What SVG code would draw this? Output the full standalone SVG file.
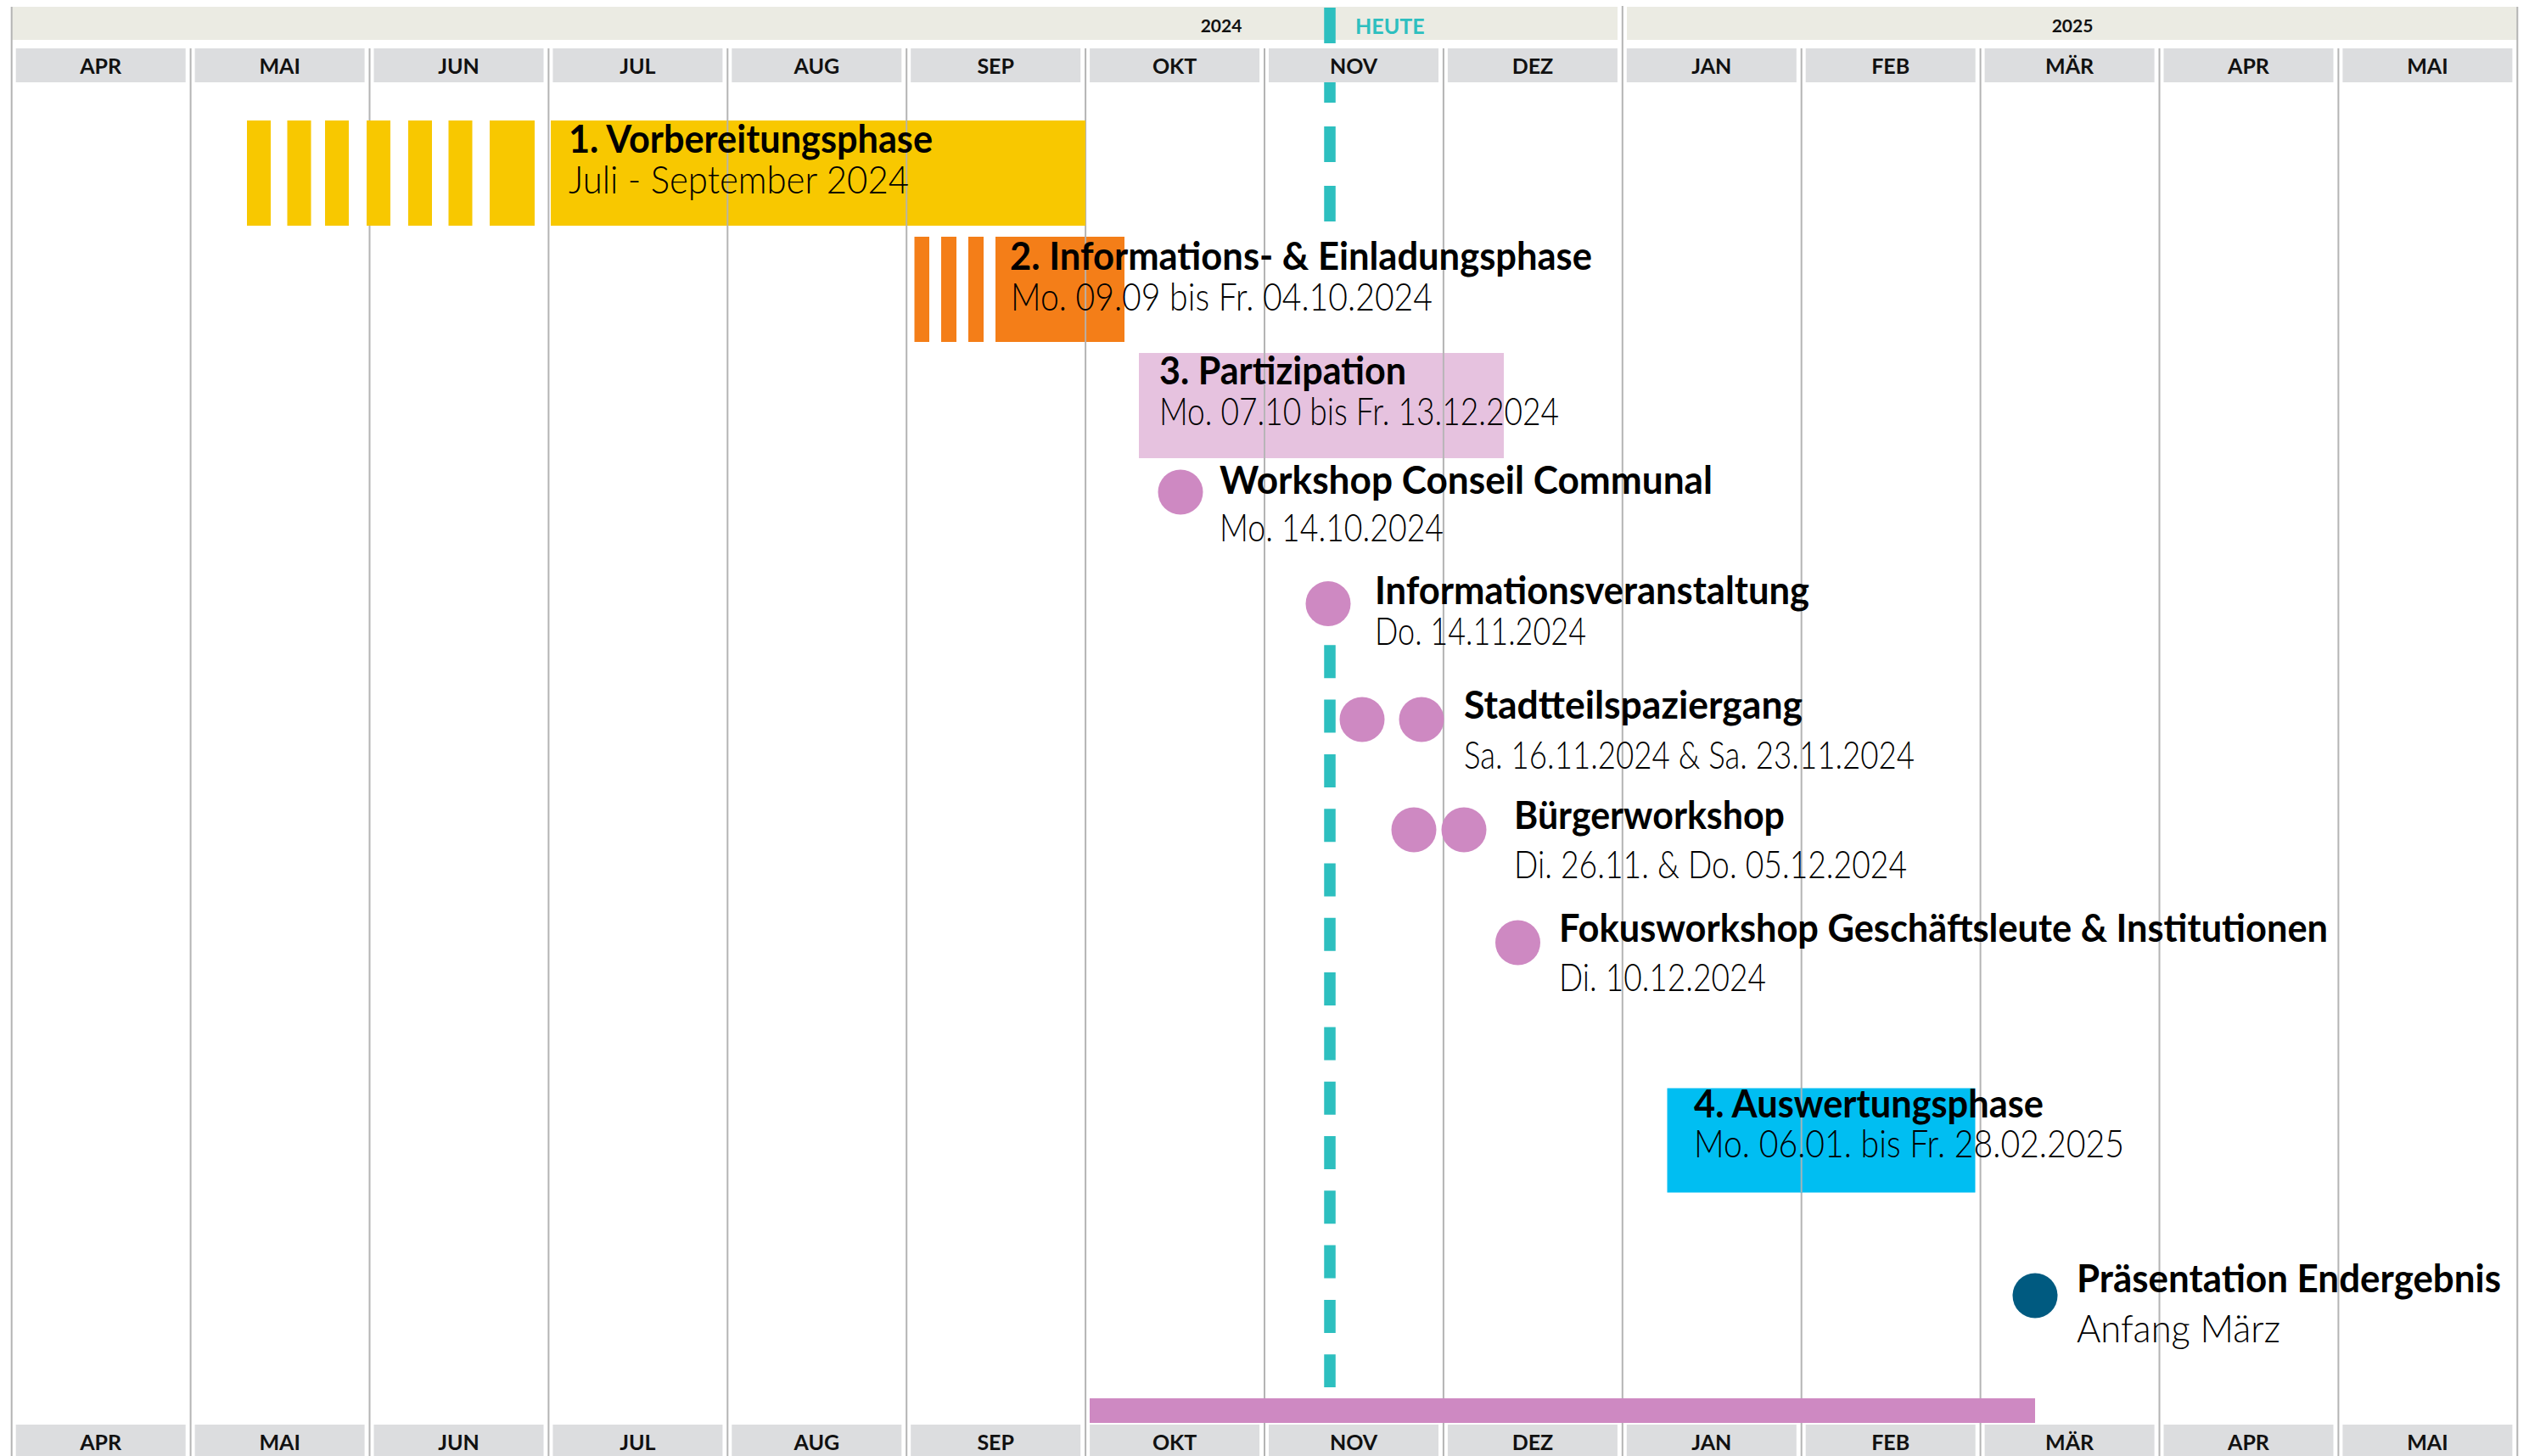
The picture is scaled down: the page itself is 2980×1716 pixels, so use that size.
<svg xmlns="http://www.w3.org/2000/svg" width="2980" height="1716" viewBox="0 0 2980 1716">
<style>
.yb{fill:#EBEBE3}
.cell{fill:#DCDDDF}
.grid{stroke:#B4B4B4;stroke-width:2}
.mon{font-family:Lato,"Liberation Sans",sans-serif;font-weight:700;font-size:25px;fill:#111;text-anchor:middle}
.yr{font-family:Lato,"Liberation Sans",sans-serif;font-weight:700;font-size:21px;fill:#111;text-anchor:middle}
.heute{font-family:Lato,"Liberation Sans",sans-serif;font-weight:700;font-size:25px;fill:#2DBFBF}
.t{font-family:Lato,"Liberation Sans",sans-serif;font-weight:700;font-size:46px;fill:#000}
.d{font-family:Lato,"Liberation Sans",sans-serif;font-weight:300;font-size:46px;fill:#000}
.today{stroke:#2DBFBF;stroke-width:13.5;fill:none}
.ev{fill:#CE89C2}
</style>
<rect width="2980" height="1716" fill="#FFFFFF"/>
<g id="year-bar">
<rect class="yb" x="13.7" y="8" width="1892.3" height="39"/>
<rect class="yb" x="1917" y="8" width="1049.3" height="39"/>
<text class="yr" x="1439" y="38">2024</text>
<text class="yr" x="2442" y="38">2025</text>
</g>
<g id="gridlines">
<line class="grid" x1="13.7" y1="8" x2="13.7" y2="1716"/>
<line class="grid" x1="224.6" y1="57" x2="224.6" y2="1716"/>
<line class="grid" x1="435.5" y1="57" x2="435.5" y2="1716"/>
<line class="grid" x1="646.4" y1="57" x2="646.4" y2="1716"/>
<line class="grid" x1="857.3" y1="57" x2="857.3" y2="1716"/>
<line class="grid" x1="1068.2" y1="57" x2="1068.2" y2="1716"/>
<line class="grid" x1="1279.1" y1="57" x2="1279.1" y2="1716"/>
<line class="grid" x1="1490" y1="57" x2="1490" y2="1716"/>
<line class="grid" x1="1700.9" y1="57" x2="1700.9" y2="1716"/>
<line class="grid" x1="1911.8" y1="7" x2="1911.8" y2="1716"/>
<line class="grid" x1="2122.7" y1="57" x2="2122.7" y2="1716"/>
<line class="grid" x1="2333.6" y1="57" x2="2333.6" y2="1716"/>
<line class="grid" x1="2544.5" y1="57" x2="2544.5" y2="1716"/>
<line class="grid" x1="2755.4" y1="57" x2="2755.4" y2="1716"/>
<line class="grid" x1="2966.3" y1="8" x2="2966.3" y2="1716"/>
</g>
<g id="today-top">
<line class="today" x1="1567" y1="9" x2="1567" y2="261" stroke-dasharray="42 28"/>
<text class="heute" x="1597" y="40">HEUTE</text>
</g>
<g id="months-top">
<rect class="cell" x="18.7" y="57" width="200" height="40"/>
<rect class="cell" x="229.6" y="57" width="200" height="40"/>
<rect class="cell" x="440.5" y="57" width="200" height="40"/>
<rect class="cell" x="651.4" y="57" width="200" height="40"/>
<rect class="cell" x="862.3" y="57" width="200" height="40"/>
<rect class="cell" x="1073.2" y="57" width="200" height="40"/>
<rect class="cell" x="1284.1" y="57" width="200" height="40"/>
<rect class="cell" x="1495" y="57" width="200" height="40"/>
<rect class="cell" x="1705.9" y="57" width="200" height="40"/>
<rect class="cell" x="1916.8" y="57" width="200" height="40"/>
<rect class="cell" x="2127.7" y="57" width="200" height="40"/>
<rect class="cell" x="2338.6" y="57" width="200" height="40"/>
<rect class="cell" x="2549.5" y="57" width="200" height="40"/>
<rect class="cell" x="2760.4" y="57" width="200" height="40"/>
<text class="mon" x="118.7" y="87">APR</text>
<text class="mon" x="329.6" y="87">MAI</text>
<text class="mon" x="540.5" y="87">JUN</text>
<text class="mon" x="751.4" y="87">JUL</text>
<text class="mon" x="962.3" y="87">AUG</text>
<text class="mon" x="1173.2" y="87">SEP</text>
<text class="mon" x="1384.1" y="87">OKT</text>
<text class="mon" x="1595" y="87">NOV</text>
<text class="mon" x="1805.9" y="87">DEZ</text>
<text class="mon" x="2016.8" y="87">JAN</text>
<text class="mon" x="2227.7" y="87">FEB</text>
<text class="mon" x="2438.6" y="87">MÄR</text>
<text class="mon" x="2649.5" y="87">APR</text>
<text class="mon" x="2860.4" y="87">MAI</text>
</g>
<g id="months-bottom">
<rect class="cell" x="18.7" y="1679" width="200" height="40"/>
<rect class="cell" x="229.6" y="1679" width="200" height="40"/>
<rect class="cell" x="440.5" y="1679" width="200" height="40"/>
<rect class="cell" x="651.4" y="1679" width="200" height="40"/>
<rect class="cell" x="862.3" y="1679" width="200" height="40"/>
<rect class="cell" x="1073.2" y="1679" width="200" height="40"/>
<rect class="cell" x="1284.1" y="1679" width="200" height="40"/>
<rect class="cell" x="1495" y="1679" width="200" height="40"/>
<rect class="cell" x="1705.9" y="1679" width="200" height="40"/>
<rect class="cell" x="1916.8" y="1679" width="200" height="40"/>
<rect class="cell" x="2127.7" y="1679" width="200" height="40"/>
<rect class="cell" x="2338.6" y="1679" width="200" height="40"/>
<rect class="cell" x="2549.5" y="1679" width="200" height="40"/>
<rect class="cell" x="2760.4" y="1679" width="200" height="40"/>
<text class="mon" x="118.7" y="1709">APR</text>
<text class="mon" x="329.6" y="1709">MAI</text>
<text class="mon" x="540.5" y="1709">JUN</text>
<text class="mon" x="751.4" y="1709">JUL</text>
<text class="mon" x="962.3" y="1709">AUG</text>
<text class="mon" x="1173.2" y="1709">SEP</text>
<text class="mon" x="1384.1" y="1709">OKT</text>
<text class="mon" x="1595" y="1709">NOV</text>
<text class="mon" x="1805.9" y="1709">DEZ</text>
<text class="mon" x="2016.8" y="1709">JAN</text>
<text class="mon" x="2227.7" y="1709">FEB</text>
<text class="mon" x="2438.6" y="1709">MÄR</text>
<text class="mon" x="2649.5" y="1709">APR</text>
<text class="mon" x="2860.4" y="1709">MAI</text>
</g>
<g id="phase1" fill="#F8C800">
<rect x="291" y="142" width="28" height="124"/>
<rect x="338.5" y="142" width="28" height="124"/>
<rect x="383" y="142" width="28" height="124"/>
<rect x="432" y="142" width="28" height="124"/>
<rect x="481" y="142" width="28" height="124"/>
<rect x="528.5" y="142" width="28" height="124"/>
<rect x="577" y="142" width="53" height="124"/>
<rect x="649" y="142" width="630" height="124"/>
</g>
<g id="phase2" fill="#F47E18">
<rect x="1077.5" y="279" width="17.5" height="124"/>
<rect x="1109" y="279" width="18" height="124"/>
<rect x="1141" y="279" width="18" height="124"/>
<rect x="1173" y="279" width="152" height="124"/>
</g>
<g id="phase3">
<rect x="1342" y="416" width="430" height="124" fill="#E6C2DF"/>
</g>
<g id="phase4">
<rect x="1964.5" y="1282.5" width="363" height="123" fill="#00BEF2"/>
</g>
<g id="gridlines-over" opacity="0.9">
<line class="grid" x1="857.3" y1="142" x2="857.3" y2="266"/>
<line class="grid" x1="1068.2" y1="142" x2="1068.2" y2="266"/>
<line class="grid" x1="1279.1" y1="279" x2="1279.1" y2="403"/>
<line class="grid" x1="1490" y1="416" x2="1490" y2="540"/>
<line class="grid" x1="1700.9" y1="416" x2="1700.9" y2="540"/>
<line class="grid" x1="2122.7" y1="1282.5" x2="2122.7" y2="1405.5"/>
</g>
<g id="phase3-bar">
<rect x="1284" y="1648" width="1114" height="29" fill="#CE89C2"/>
</g>
<g id="today-bottom">
<line class="today" x1="1567" y1="696" x2="1567" y2="1635" stroke-dasharray="39 25.3"/>
</g>
<g id="phase1-label">
<text class="t" x="670" y="180" textLength="429" lengthAdjust="spacingAndGlyphs">1. Vorbereitungsphase</text>
<text class="d" x="670" y="228" textLength="401" lengthAdjust="spacingAndGlyphs">Juli - September 2024</text>
</g>
<g id="phase2-label">
<text class="t" x="1190" y="318" textLength="686" lengthAdjust="spacingAndGlyphs">2. Informations- &amp; Einladungsphase</text>
<text class="d" x="1191" y="366" textLength="497" lengthAdjust="spacingAndGlyphs">Mo. 09.09 bis Fr. 04.10.2024</text>
</g>
<g id="phase3-label">
<text class="t" x="1366" y="453" textLength="291" lengthAdjust="spacingAndGlyphs">3. Partizipation</text>
<text class="d" x="1366" y="501" textLength="471" lengthAdjust="spacingAndGlyphs">Mo. 07.10 bis Fr. 13.12.2024</text>
</g>
<g id="event-workshop-conseil">
<circle class="ev" cx="1391" cy="580" r="26.5"/>
<text class="t" x="1437" y="582" textLength="581" lengthAdjust="spacingAndGlyphs">Workshop Conseil Communal</text>
<text class="d" x="1437" y="638" textLength="264" lengthAdjust="spacingAndGlyphs">Mo. 14.10.2024</text>
</g>
<g id="event-informationsveranstaltung">
<circle class="ev" cx="1565" cy="711.5" r="26.5"/>
<text class="t" x="1620" y="712" textLength="512" lengthAdjust="spacingAndGlyphs">Informationsveranstaltung</text>
<text class="d" x="1620" y="760" textLength="249" lengthAdjust="spacingAndGlyphs">Do. 14.11.2024</text>
</g>
<g id="event-stadtteilspaziergang">
<circle class="ev" cx="1605" cy="848" r="26.5"/>
<circle class="ev" cx="1675" cy="848" r="26.5"/>
<text class="t" x="1725" y="847" textLength="399" lengthAdjust="spacingAndGlyphs">Stadtteilspaziergang</text>
<text class="d" x="1725" y="906" textLength="531" lengthAdjust="spacingAndGlyphs">Sa. 16.11.2024 &amp; Sa. 23.11.2024</text>
</g>
<g id="event-buergerworkshop">
<circle class="ev" cx="1666" cy="978" r="26.5"/>
<circle class="ev" cx="1725" cy="978" r="26.5"/>
<text class="t" x="1784" y="977" textLength="319" lengthAdjust="spacingAndGlyphs">Bürgerworkshop</text>
<text class="d" x="1784" y="1035" textLength="463" lengthAdjust="spacingAndGlyphs">Di. 26.11. &amp; Do. 05.12.2024</text>
</g>
<g id="event-fokusworkshop">
<circle class="ev" cx="1788.5" cy="1111" r="26.5"/>
<text class="t" x="1837" y="1110" textLength="906" lengthAdjust="spacingAndGlyphs">Fokusworkshop Geschäftsleute &amp; Institutionen</text>
<text class="d" x="1837" y="1168" textLength="244" lengthAdjust="spacingAndGlyphs">Di. 10.12.2024</text>
</g>
<g id="phase4-label">
<text class="t" x="1996" y="1317" textLength="412" lengthAdjust="spacingAndGlyphs">4. Auswertungsphase</text>
<text class="d" x="1996" y="1364" textLength="507" lengthAdjust="spacingAndGlyphs">Mo. 06.01. bis Fr. 28.02.2025</text>
</g>
<g id="event-praesentation">
<circle cx="2398" cy="1527" r="26.5" fill="#005A80"/>
<text class="t" x="2447" y="1523" textLength="500" lengthAdjust="spacingAndGlyphs">Präsentation Endergebnis</text>
<text class="d" x="2447" y="1582" textLength="240" lengthAdjust="spacingAndGlyphs">Anfang März</text>
</g>
</svg>
